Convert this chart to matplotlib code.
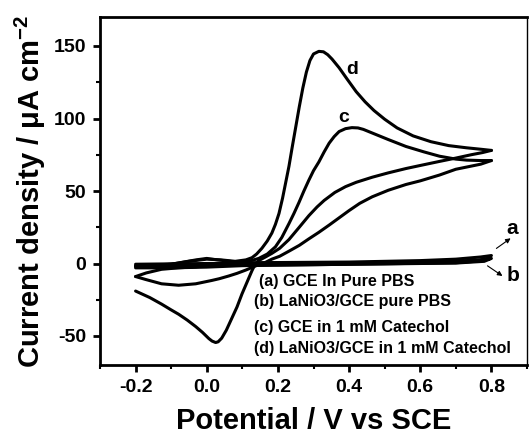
import matplotlib
matplotlib.use("Agg")
import matplotlib.pyplot as plt
from matplotlib.ticker import MultipleLocator

plt.rcParams['font.family'] = ['Liberation Sans', 'DejaVu Sans']
plt.rcParams['font.weight'] = 'bold'
plt.rcParams['axes.unicode_minus'] = False
plt.rcParams['mathtext.fontset'] = 'custom'
plt.rcParams['mathtext.rm'] = 'Liberation Sans:bold'
plt.rcParams['mathtext.it'] = 'Liberation Sans:bold'
plt.rcParams['mathtext.bf'] = 'Liberation Sans:bold'
plt.rcParams['mathtext.default'] = 'regular'

# (d) LaNiO3/GCE in 1 mM Catechol
d_fwd_x = [-0.20, -0.15, -0.10, -0.05, 0.00, 0.04, 0.08, 0.11, 0.127, 0.14, 0.155, 0.17,
           0.183, 0.193, 0.203, 0.213, 0.222, 0.231, 0.24, 0.25, 0.26, 0.27, 0.28, 0.29,
           0.30, 0.315, 0.328, 0.34, 0.352, 0.372, 0.395, 0.42, 0.445, 0.47, 0.50, 0.535,
           0.58, 0.63, 0.68, 0.73, 0.77, 0.80]
d_fwd_y = [-2.0, -1.5, -0.5, 1.5, 3.0, 2.5, 1.5, 2.5, 4.0, 6.5, 10.5, 15.5,
           21.0, 27.0, 34.5, 45.0, 56.0, 67.0, 80.0, 94.0, 108.0, 121.0, 132.0, 140.0,
           144.5, 146.3, 146.0, 144.0, 141.0, 135.0, 127.0, 118.5, 111.5, 105.5, 99.5, 93.5,
           88.0, 84.0, 81.3, 79.8, 78.8, 78.0]
d_rev_x = [0.80, 0.775, 0.743, 0.70, 0.654, 0.60, 0.56, 0.51, 0.465, 0.42, 0.39, 0.36,
           0.33, 0.31, 0.287, 0.26, 0.231, 0.205, 0.183, 0.165, 0.146, 0.135, 0.127,
           0.113, 0.099, 0.085, 0.07, 0.055, 0.042, 0.032, 0.025, 0.015, 0.006, -0.012,
           -0.031, -0.055, -0.079, -0.10, -0.127, -0.16, -0.20]
d_rev_y = [78.0, 76.5, 75.0, 72.7, 70.4, 67.6, 65.5, 62.5, 59.5, 56.0, 53.0, 49.0,
           43.5, 39.0, 33.0, 25.0, 16.5, 10.5, 7.0, 4.5, 2.0, -1.0, -5.0,
           -13.0, -21.0, -30.0, -38.0, -46.0, -51.5, -54.0, -54.5, -53.5, -51.8, -47.5,
           -43.5, -39.0, -35.0, -32.0, -28.0, -23.5, -19.0]

# (c) GCE in 1 mM Catechol
c_fwd_x = [-0.20, -0.17, -0.127, -0.08, -0.031, 0.025, 0.07, 0.10, 0.125, 0.146, 0.17,
           0.193, 0.211, 0.231, 0.245, 0.259, 0.273, 0.287, 0.30, 0.315, 0.33, 0.344,
           0.358, 0.372, 0.39, 0.408, 0.425, 0.44, 0.465, 0.51, 0.56, 0.61, 0.654, 0.70,
           0.73, 0.77, 0.80]
c_fwd_y = [-9.0, -6.5, -4.0, -3.0, -2.3, -1.0, 0.0, 0.8, 2.0, 3.5, 6.5,
           11.5, 18.0, 27.5, 34.5, 42.0, 50.0, 57.5, 64.0, 70.0, 77.0, 83.0,
           87.5, 91.0, 93.0, 93.7, 93.5, 92.5, 90.0, 85.5, 80.7, 77.0, 74.0, 72.0,
           71.3, 71.0, 71.0]
c_rev_x = [0.80, 0.77, 0.73, 0.70, 0.654, 0.60, 0.56, 0.51, 0.465, 0.43, 0.40, 0.372,
           0.344, 0.315, 0.287, 0.26, 0.231, 0.205, 0.183, 0.165, 0.138, 0.11, 0.085,
           0.062, 0.035, 0.014, -0.031, -0.079, -0.127, -0.172, -0.20]
c_rev_y = [71.0, 68.5, 66.5, 65.0, 61.0, 57.0, 54.5, 50.5, 46.0, 41.5, 36.5, 31.5,
           26.5, 21.5, 17.0, 12.5, 8.5, 5.0, 3.0, 0.8, -1.6, -4.5, -6.8,
           -8.6, -10.5, -11.7, -14.0, -15.0, -14.0, -11.0, -9.0]

# (a) GCE in pure PBS
a_x = [-0.20, 0.00, 0.20, 0.40, 0.60, 0.70, 0.76, 0.80, 0.78, 0.70, 0.50, 0.30, 0.10, -0.10, -0.20]
a_y = [-0.5, 0.0, 0.3, 0.6, 1.0, 1.6, 2.4, 3.5, 1.5, 0.3, -0.3, -0.8, -1.2, -1.8, -2.0]

# (b) LaNiO3/GCE in pure PBS
b_x = [-0.20, -0.10, -0.03, 0.00, 0.03, 0.10, 0.40, 0.60, 0.70, 0.77, 0.80, 0.78, 0.70,
       0.40, 0.10, 0.00, -0.10, -0.20]
b_y = [-1.5, -0.5, 2.5, 3.5, 2.5, 0.5, 1.0, 2.0, 3.0, 4.5, 5.5, 2.0, 0.5,
       -0.5, -1.5, -2.5, -3.0, -3.0]

legend_lines = ["(a) GCE In Pure PBS", "(b) LaNiO3/GCE pure PBS",
                "(c) GCE in 1 mM Catechol", "(d) LaNiO3/GCE in 1 mM Catechol"]
legend_x = [0.146, 0.132, 0.132, 0.132]
legend_y = [-12.1, -26.5, -44.0, -58.6]

x_ticks = [-0.2, 0.0, 0.2, 0.4, 0.6, 0.8]
y_ticks = [-50, 0, 50, 100, 150]

fig = plt.figure(figsize=(5.30, 4.34), dpi=100)
ax = fig.add_axes([100/530, 1 - 365/434, 427/530, 348/434])

lw = 2.2
for xs, ys in [(a_x, a_y), (b_x, b_y), (c_fwd_x, c_fwd_y), (c_rev_x, c_rev_y),
               (d_fwd_x, d_fwd_y), (d_rev_x, d_rev_y)]:
    ax.plot(xs, ys, color='black', lw=lw, solid_joinstyle='round', solid_capstyle='round')

ax.set_xlim(-0.3, 0.9)
ax.set_ylim(-70, 170)
ax.set_xticks(x_ticks)
ax.set_xticklabels(["%.1f" % v for v in x_ticks])
ax.set_yticks(y_ticks)
ax.xaxis.set_minor_locator(MultipleLocator(0.1))
ax.yaxis.set_minor_locator(MultipleLocator(25))
ax.tick_params(which='major', direction='out', length=5, width=2, labelsize=14, pad=5)
ax.tick_params(which='minor', direction='out', length=3, width=1.5)
ax.tick_params(top=False, right=False, which='both')
for lab in ax.get_xticklabels() + ax.get_yticklabels():
    lab.set_fontweight('bold')

for side in ['left', 'bottom', 'top']:
    ax.spines[side].set_linewidth(2.0)
ax.spines['right'].set_linewidth(1.0)

ax.set_xlabel("Potential / V vs SCE", fontsize=21, fontweight='bold', labelpad=8)
ax.set_ylabel("Current density / μA cm$^{-2}$", fontsize=21, fontweight='bold', labelpad=4)

for t, x, y in zip(legend_lines, legend_x, legend_y):
    ax.text(x, y, t, fontsize=11.5, fontweight='bold', ha='left', va='center')

ax.text(0.408, 134, "d", fontsize=14, fontweight='bold', ha='center', va='center')
ax.text(0.386, 101, "c", fontsize=14, fontweight='bold', ha='center', va='center')
ax.text(0.858, 24, "a", fontsize=15, fontweight='bold', ha='center', va='center')
ax.text(0.860, -8, "b", fontsize=15, fontweight='bold', ha='center', va='center')
ax.annotate('', xy=(0.854, 17.4), xytext=(0.814, 10.4),
            arrowprops=dict(arrowstyle='-|>', lw=0.8, color='black', mutation_scale=7,
                            shrinkA=0, shrinkB=0))
ax.annotate('', xy=(0.831, -8.6), xytext=(0.789, -1.6),
            arrowprops=dict(arrowstyle='-|>', lw=0.8, color='black', mutation_scale=7,
                            shrinkA=0, shrinkB=0))

fig.savefig("out.png", dpi=100)
